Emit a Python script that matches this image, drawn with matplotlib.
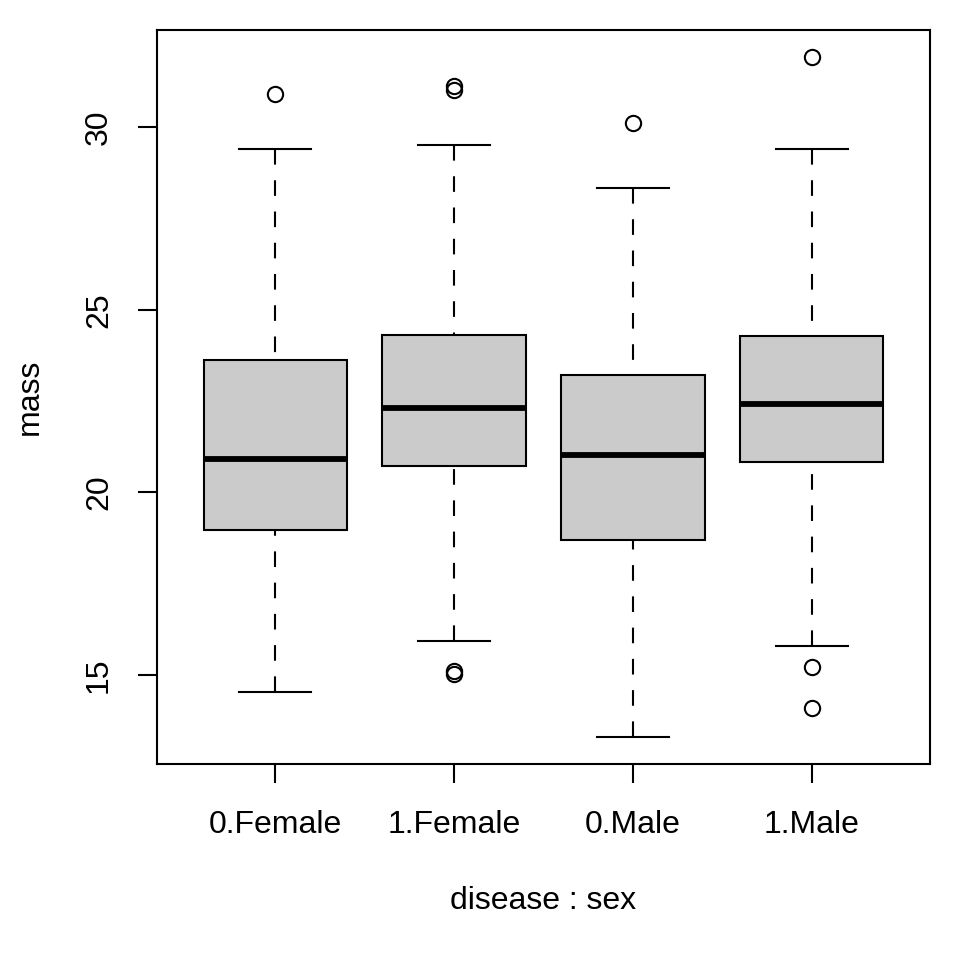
import matplotlib
matplotlib.use("Agg")
import matplotlib.pyplot as plt

categories = ["0.Female", "1.Female", "0.Male", "1.Male"]
whisker_low = [14.53, 15.93, 13.30, 15.79]
q1 = [18.96, 20.71, 18.69, 20.82]
median = [20.90, 22.30, 21.01, 22.41]
q3 = [23.63, 24.32, 23.22, 24.29]
whisker_high = [29.40, 29.51, 28.33, 29.40]
outliers = [[30.90], [31.12, 31.01, 15.11, 15.03], [30.11], [31.92, 15.22, 14.10]]
yticks = [15, 20, 25, 30]

plt.rcParams['font.family'] = ['Liberation Sans', 'DejaVu Sans']
fig = plt.figure(figsize=(9.6, 9.6), dpi=100)
ax = fig.add_axes([157/960, 1-764/960, (930-157)/960, (764-30)/960])

stats = []
for i, c in enumerate(categories):
    stats.append(dict(label=c, whislo=whisker_low[i], q1=q1[i], med=median[i],
                      q3=q3[i], whishi=whisker_high[i], fliers=outliers[i]))

positions = list(range(1, len(categories)+1))
ax.bxp(stats, positions=positions, widths=0.8,
       patch_artist=True, showfliers=True,
       boxprops=dict(facecolor='#cbcbcb', edgecolor='black', linewidth=1.5, zorder=3),
       medianprops=dict(color='black', linewidth=4.2, solid_capstyle='butt', zorder=4),
       whiskerprops=dict(linestyle='none'),
       capprops=dict(color='black', linewidth=1.5),
       capwidths=0.4,
       flierprops=dict(marker='o', markerfacecolor='none', markeredgecolor='black',
                       markersize=11, markeredgewidth=1.5, linestyle='none'))

# whiskers drawn from cap toward box (as R does), dashed
for i, p in enumerate(positions):
    ax.plot([p, p], [whisker_high[i], q3[i]], color='black', linewidth=1.5,
            linestyle=(0, (7.5, 7.5)), zorder=2)
    ax.plot([p, p], [whisker_low[i], q1[i]], color='black', linewidth=1.5,
            linestyle=(0, (7.5, 7.5)), zorder=2)

allv = whisker_low + whisker_high + [v for o in outliers for v in o]
lo, hi = min(allv), max(allv)
pad = 0.04 * (hi - lo)
ax.set_ylim(lo - pad, hi + pad)
n = len(categories)
ax.set_xlim(0.5 - 0.04*n, n + 0.5 + 0.04*n)

fs = 23
ax.set_yticks(yticks)
ax.set_yticklabels([str(t) for t in yticks], rotation=90, va='center', fontsize=fs)
ax.set_xticks(positions)
ax.set_xticklabels(categories, fontsize=fs)
ax.tick_params(axis='both', length=14, width=1.5, color='black')
ax.tick_params(axis='x', pad=19)
ax.tick_params(axis='y', pad=17)
for s in ax.spines.values():
    s.set_linewidth(1.5)

ax.set_xlabel("disease : sex", fontsize=fs, labelpad=33)
ax.set_ylabel("mass", fontsize=fs, labelpad=28)

fig.savefig("out.png", dpi=100, facecolor='white')
